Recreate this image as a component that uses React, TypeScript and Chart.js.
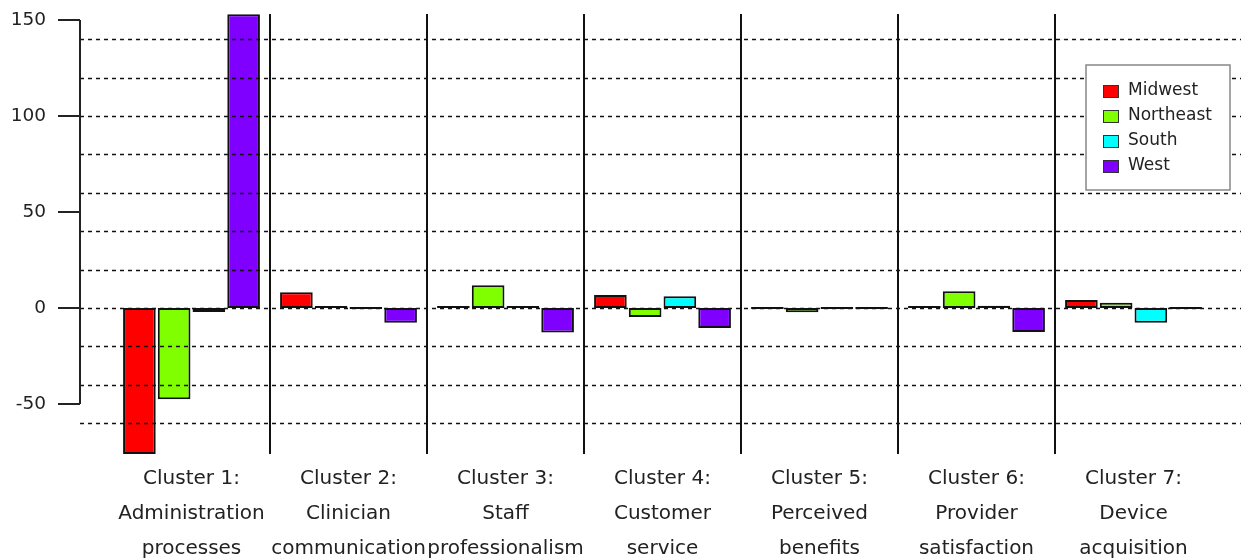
import React, { useEffect, useRef } from 'react';
import { Chart, registerables } from 'chart.js';

Chart.register(...registerables);

const categories: string[][] = [
  ['Cluster 1:', 'Administration', 'processes'],
  ['Cluster 2:', 'Clinician', 'communication'],
  ['Cluster 3:', 'Staff', 'professionalism'],
  ['Cluster 4:', 'Customer', 'service'],
  ['Cluster 5:', 'Perceived', 'benefits'],
  ['Cluster 6:', 'Provider', 'satisfaction'],
  ['Cluster 7:', 'Device', 'acquisition'],
];
const seriesNames = ['Midwest', 'Northeast', 'South', 'West'];
const midwest = [-76, 8.2, 0.4, 6.8, 0, 0.4, 4.2];
const northeast = [-47.5, 0.5, 11.8, -4.7, -2.2, 8.7, 2.8];
const south = [-2, 0, 0.4, 6.1, 0, 1.2, -7.6];
const west = [153, -7.6, -12.8, -10.4, 0, -12.5, 0];
const yTicks = [-50, 0, 50, 100, 150];
const gridValues = [-60, -40, -20, 0, 20, 40, 60, 80, 100, 120, 140];
const colors = ['#FF0000', '#80FF00', '#00FFFF', '#8000FF'];

const FONT = "'DejaVu Sans', sans-serif";

const decor = {
  id: 'decor',
  afterDatasetsDraw(chart: any) {
    const { ctx, chartArea, scales } = chart;
    const x = scales.x;
    const y = scales.y;
    const axisX = chartArea.left - 33;
    ctx.save();
    // dotted grid
    ctx.setLineDash([4, 4]);
    ctx.lineWidth = 1.5;
    ctx.strokeStyle = '#111';
    for (const v of gridValues) {
      const py = Math.round(y.getPixelForValue(v)) + 0.5;
      ctx.beginPath();
      ctx.moveTo(axisX, py);
      ctx.lineTo(chart.width, py);
      ctx.stroke();
    }
    ctx.setLineDash([]);
    // separators
    ctx.lineWidth = 2;
    ctx.strokeStyle = '#111';
    for (let i = 0; i < categories.length - 1; i++) {
      const px = Math.round((x.getPixelForTick(i) + x.getPixelForTick(i + 1)) / 2);
      ctx.beginPath();
      ctx.moveTo(px, chartArea.top);
      ctx.lineTo(px, chartArea.bottom);
      ctx.stroke();
    }
    // y axis
    ctx.lineWidth = 2;
    ctx.strokeStyle = '#222';
    ctx.beginPath();
    ctx.moveTo(axisX, y.getPixelForValue(yTicks[0]));
    ctx.lineTo(axisX, y.getPixelForValue(yTicks[yTicks.length - 1]));
    ctx.stroke();
    ctx.fillStyle = '#222';
    ctx.font = `18.5px ${FONT}`;
    ctx.textAlign = 'right';
    ctx.textBaseline = 'middle';
    for (const t of yTicks) {
      const py = Math.round(y.getPixelForValue(t));
      ctx.beginPath();
      ctx.moveTo(axisX - 22, py);
      ctx.lineTo(axisX, py);
      ctx.stroke();
      ctx.fillText(String(t), axisX - 34, py);
    }
    // legend
    const lx = chart.width - 155;
    const ly = 65;
    ctx.fillStyle = '#fff';
    ctx.fillRect(lx, ly, 144, 125);
    ctx.strokeStyle = '#888';
    ctx.lineWidth = 1.5;
    ctx.strokeRect(lx, ly, 144, 125);
    ctx.font = `17px ${FONT}`;
    ctx.textAlign = 'left';
    seriesNames.forEach((name, i) => {
      const cy = ly + 26 + i * 25;
      ctx.fillStyle = colors[i];
      ctx.fillRect(lx + 17, cy - 6, 16, 13);
      ctx.strokeStyle = '#333';
      ctx.lineWidth = 1;
      ctx.strokeRect(lx + 17.5, cy - 5.5, 15, 12);
      ctx.fillStyle = '#222';
      ctx.fillText(name, lx + 42, cy);
    });
    ctx.restore();
  },
};

export default function App() {
  const ref = useRef<HTMLCanvasElement>(null);
  useEffect(() => {
    document.body.style.margin = '0';
    const seriesData = [midwest, northeast, south, west];
    const chart = new Chart(ref.current!, {
      type: 'bar',
      data: {
        labels: categories,
        datasets: seriesNames.map((name, i) => ({
          label: name,
          data: seriesData[i],
          backgroundColor: colors[i],
          borderColor: '#111',
          borderWidth: 2,
          borderSkipped: false,
          minBarLength: 2,
          categoryPercentage: 0.885,
          barPercentage: 0.94,
        })),
      },
      options: {
        responsive: false,
        animation: false,
        layout: { padding: { left: 113, right: 29, top: 14, bottom: 0 } },
        plugins: { legend: { display: false }, tooltip: { enabled: false } },
        scales: {
          x: {
            grid: { display: false, drawTicks: false },
            border: { display: false },
            ticks: {
              font: { family: FONT, size: 20, lineHeight: 1.75 },
              color: '#222',
              padding: 7,
              maxRotation: 0,
              autoSkip: false,
            },
            afterFit(s: any) {
              s.height = 104;
            },
          },
          y: { display: false, min: -76, max: 153.1 },
        },
      },
      plugins: [decor],
    });
    return () => chart.destroy();
  }, []);
  return (
    <div style={{ width: 1241, height: 558 }}>
      <canvas ref={ref} width={1241} height={558} />
    </div>
  );
}
